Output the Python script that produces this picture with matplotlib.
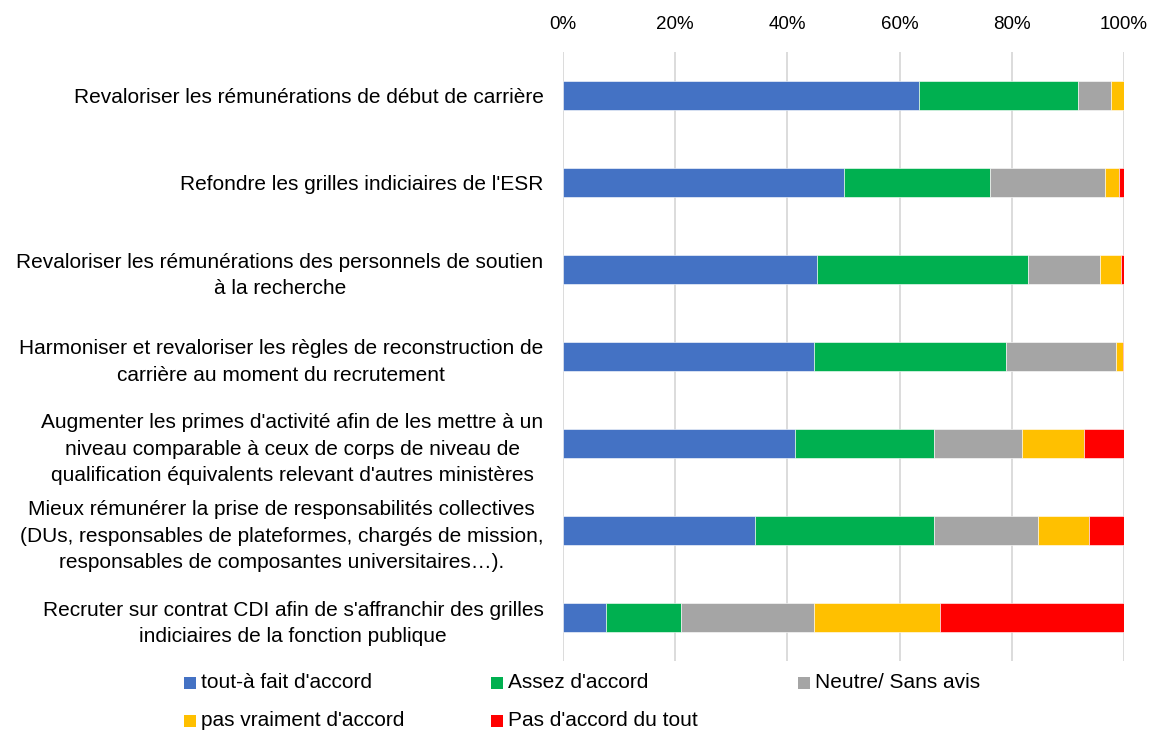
import matplotlib
matplotlib.use("Agg")
import matplotlib.pyplot as plt
import numpy as np
from matplotlib.patches import Rectangle
from matplotlib.ticker import PercentFormatter

plt.rcParams['font.family'] = ['Liberation Sans', 'DejaVu Sans']

categories = [
    "Revaloriser les rémunérations de début de carrière",
    "Refondre les grilles indiciaires de l'ESR",
    "Revaloriser les rémunérations des personnels de soutien\nà la recherche",
    "Harmoniser et revaloriser les règles de reconstruction de\ncarrière au moment du recrutement",
    "Augmenter les primes d'activité afin de les mettre à un\nniveau comparable à ceux de corps de niveau de\nqualification équivalents relevant d'autres ministères",
    "Mieux rémunérer la prise de responsabilités collectives\n(DUs, responsables de plateformes, chargés de mission,\nresponsables de composantes universitaires…).",
    "Recruter sur contrat CDI afin de s'affranchir des grilles\nindiciaires de la fonction publique",
]

series_names = ["tout-à fait d'accord", "Assez d'accord", "Neutre/ Sans avis",
                "pas vraiment d'accord", "Pas d'accord du tout"]
tout_a_fait = [63.4, 50.0, 45.3, 44.8, 41.4, 34.3, 7.7]
assez = [28.4, 26.1, 37.6, 34.2, 24.8, 31.9, 13.3]
neutre = [5.8, 20.5, 12.9, 19.6, 15.7, 18.5, 23.8]
pas_vraiment = [2.4, 2.5, 3.7, 1.3, 11.0, 9.1, 22.4]
pas_du_tout = [0.0, 0.9, 0.5, 0.1, 7.1, 6.2, 32.8]
colors = ["#4472C4", "#00B050", "#A5A5A5", "#FFC000", "#FF0000"]

data = [tout_a_fait, assez, neutre, pas_vraiment, pas_du_tout]

W, H = 1150, 733
fig = plt.figure(figsize=(W / 100, H / 100), dpi=100)
ax = fig.add_axes([563 / W, (H - 661) / H, 561 / W, 609 / H])

y = np.arange(len(categories))
left = np.zeros(len(categories))
for vals, col, name in zip(data, colors, series_names):
    vals = np.array(vals)
    ax.barh(y, vals, left=left, height=0.33, color=col, label=name,
            edgecolor='white', linewidth=0.4, zorder=3)
    left += vals

ax.set_xlim(0, 100)
ax.set_ylim(len(categories) - 0.5, -0.5)
ax.xaxis.tick_top()
ax.set_xticks([0, 20, 40, 60, 80, 100])
ax.xaxis.set_major_formatter(PercentFormatter(decimals=0))
ax.tick_params(axis='x', length=0, pad=14, labelsize=13.5)
ax.set_yticks(y)
ax.set_yticklabels(categories, fontsize=15, multialignment='center',
                   linespacing=1.5)
ax.tick_params(axis='y', length=0, pad=14)
for s in ax.spines.values():
    s.set_visible(False)
ax.grid(axis='x', color='#D9D9D9', linewidth=1.3, zorder=0)
ax.set_axisbelow(True)

# Legend drawn as patches + text in figure pixel coordinates
leg_x = [184, 491, 798]
leg_y = [683, 721]
for i, (name, col) in enumerate(zip(series_names, colors)):
    r, c = divmod(i, 3)
    px, py = leg_x[c], leg_y[r]
    fig.add_artist(Rectangle((px / W, (H - py - 6) / H), 12 / W, 12 / H,
                             facecolor=col, edgecolor='none',
                             transform=fig.transFigure))
    fig.text((px + 17) / W, (H - py) / H, name, fontsize=15,
             va='center', ha='left')

fig.savefig("out.png", dpi=100)
